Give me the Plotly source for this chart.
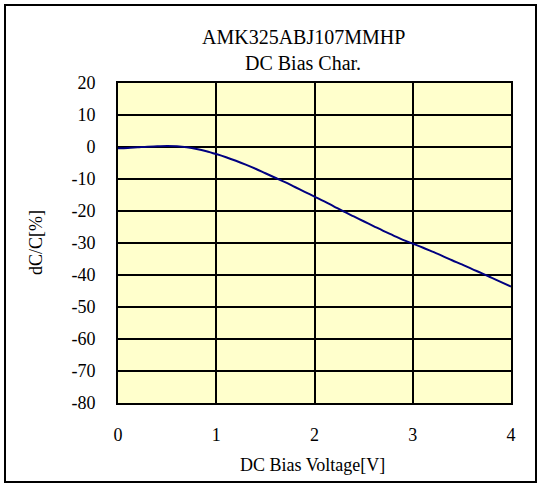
import plotly.graph_objects as go

voltage = [0.0, 0.1, 0.2, 0.3, 0.4, 0.5, 0.6, 0.7, 0.8, 0.9,
           1.0, 1.1, 1.2, 1.3, 1.4, 1.5, 1.6, 1.7, 1.8, 1.9,
           2.0, 2.1, 2.2, 2.3, 2.4, 2.5, 2.6, 2.7, 2.8, 2.9,
           3.0, 3.1, 3.2, 3.3, 3.4, 3.5, 3.6, 3.7, 3.8, 3.9, 4.0]
dcc = [-0.4, -0.3, -0.1, 0.1, 0.2, 0.3, 0.2, -0.1, -0.6, -1.3,
       -2.2, -3.2, -4.3, -5.5, -6.8, -8.2, -9.6, -11.0, -12.5, -14.0,
       -15.5, -17.0, -18.6, -20.2, -21.7, -23.2, -24.7, -26.2, -27.6, -29.0,
       -30.2, -31.4, -32.7, -34.0, -35.4, -36.7, -38.1, -39.4, -40.8, -42.2, -43.6]

x_tick_vals = [0, 1, 2, 3, 4]
x_tick_text = ["0", "1", "2", "3", "4"]
y_tick_vals = [20, 10, 0, -10, -20, -30, -40, -50, -60, -70, -80]
y_tick_text = ["20", "10", "0", "-10", "-20", "-30", "-40", "-50", "-60", "-70", "-80"]

title_lines = ["AMK325ABJ107MMHP", "DC Bias Char."]
x_title = "DC Bias Voltage[V]"
y_title = "dC/C[%]"

W, H = 541, 486
L, R, T, B = 118, 30, 83, 83
pw, ph = W - L - R, H - T - B

def px(x):
    return (x - L) / pw

def py(y):
    return (H - B - y) / ph

FONT = "Liberation Serif"

fig = go.Figure()
fig.add_trace(go.Scatter(x=voltage, y=dcc, mode="lines",
                         line=dict(color="#000080", width=2, shape="spline"),
                         showlegend=False, hoverinfo="skip"))

axis_common = dict(showgrid=True, gridcolor="black", gridwidth=2, zeroline=False,
                   showline=True, linecolor="black", linewidth=2, mirror=True,
                   ticks="", tickfont=dict(family=FONT, size=18, color="black"))

fig.update_layout(
    width=W, height=H,
    margin=dict(l=L, r=R, t=T, b=B),
    paper_bgcolor="white",
    plot_bgcolor="#FFFFCC",
    font=dict(family=FONT, size=18, color="black"),
    xaxis=dict(range=[0, 4], tickmode="array", tickvals=x_tick_vals,
               ticktext=x_tick_text, ticklabelstandoff=14, **axis_common),
    yaxis=dict(range=[-80, 20], tickmode="array", tickvals=y_tick_vals,
               ticktext=y_tick_text, ticklabelstandoff=17, **axis_common),
    annotations=[
        dict(text=title_lines[0], x=px(303), y=py(37), xref="paper", yref="paper",
             showarrow=False, font=dict(family=FONT, size=20), xanchor="center", yanchor="middle"),
        dict(text=title_lines[1], x=px(303), y=py(63), xref="paper", yref="paper",
             showarrow=False, font=dict(family=FONT, size=20), xanchor="center", yanchor="middle"),
        dict(text=x_title, x=px(312), y=py(465), xref="paper", yref="paper",
             showarrow=False, font=dict(family=FONT, size=18), xanchor="center", yanchor="middle"),
        dict(text=y_title, x=px(36), y=py(243), xref="paper", yref="paper",
             showarrow=False, font=dict(family=FONT, size=18), textangle=-90,
             xanchor="center", yanchor="middle"),
    ],
    shapes=[
        dict(type="rect", xref="paper", yref="paper",
             x0=px(5), x1=px(536), y0=py(482), y1=py(5),
             line=dict(color="black", width=2), fillcolor="rgba(0,0,0,0)",
             layer="above"),
    ],
)

fig.write_html("out.html", config={"displayModeBar": False},
               post_script="document.body.style.margin='0';document.body.style.overflow='hidden';")
